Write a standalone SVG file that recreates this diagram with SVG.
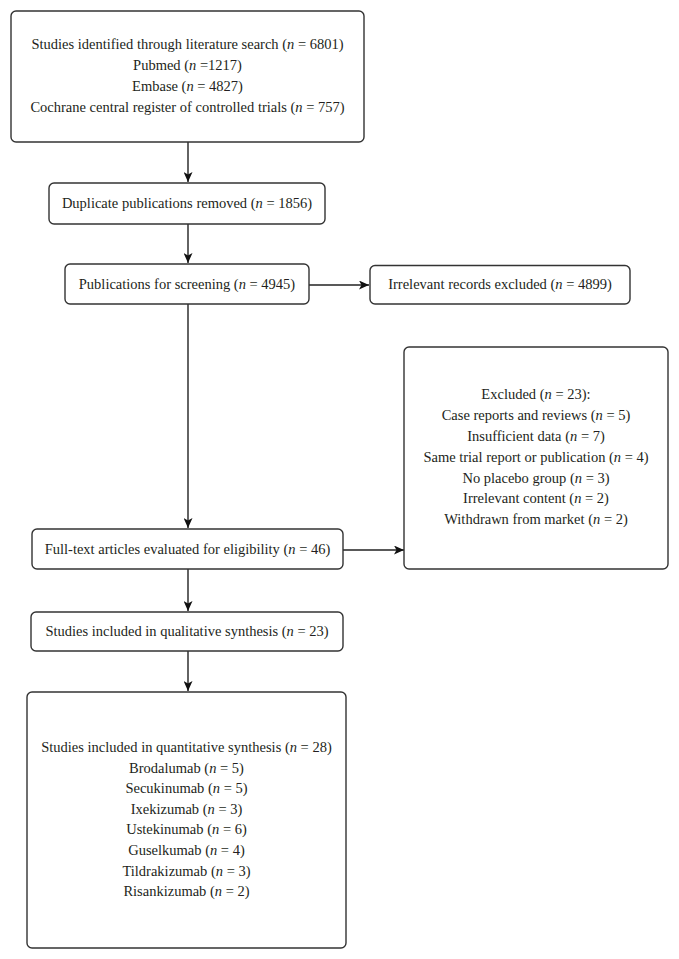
<svg xmlns="http://www.w3.org/2000/svg" width="679" height="959" viewBox="0 0 679 959">
<style>
.box{fill:#fff;stroke:#333;stroke-width:1.4}
.t{font-family:"Liberation Serif","Times New Roman",serif;font-size:14.5px;fill:#231f20;text-anchor:middle}
.i{font-style:italic}
.c{stroke:#222;stroke-width:1.4;fill:none}
</style>
<defs>
<marker id="ah" markerUnits="userSpaceOnUse" markerWidth="11" markerHeight="9" refX="10" refY="4.5" orient="auto">
<path d="M0,0 L10,4.5 L0,9 L2.5,4.5 z" fill="#111"/>
</marker>
</defs>
<rect width="679" height="959" fill="#fff"/>
<g id="connectors">
<line class="c" x1="188" y1="142" x2="188" y2="182" marker-end="url(#ah)"/>
<line class="c" x1="188" y1="224" x2="188" y2="263" marker-end="url(#ah)"/>
<line class="c" x1="309" y1="285" x2="369" y2="285" marker-end="url(#ah)"/>
<line class="c" x1="188" y1="304" x2="188" y2="528" marker-end="url(#ah)"/>
<line class="c" x1="343" y1="550" x2="404" y2="550" marker-end="url(#ah)"/>
<line class="c" x1="188" y1="569" x2="188" y2="611" marker-end="url(#ah)"/>
<line class="c" x1="188" y1="651" x2="188" y2="691" marker-end="url(#ah)"/>
</g>
<g id="identified">
<rect class="box" x="11" y="11" width="353" height="131" rx="5"/>
<text class="t" x="187.5" y="49">Studies identified through literature search (<tspan class="i">n</tspan> = 6801)</text>
<text class="t" x="187.5" y="70">Pubmed (<tspan class="i">n</tspan> =1217)</text>
<text class="t" x="187.5" y="91">Embase (<tspan class="i">n</tspan> = 4827)</text>
<text class="t" x="187.5" y="112">Cochrane central register of controlled trials (<tspan class="i">n</tspan> = 757)</text>
</g>
<g id="duplicates">
<rect class="box" x="49" y="183" width="276" height="41" rx="5"/>
<text class="t" x="187" y="208">Duplicate publications removed (<tspan class="i">n</tspan> = 1856)</text>
</g>
<g id="screening">
<rect class="box" x="65" y="264" width="244" height="40" rx="5"/>
<text class="t" x="187" y="289">Publications for screening (<tspan class="i">n</tspan> = 4945)</text>
</g>
<g id="irrelevant">
<rect class="box" x="370" y="265.5" width="260" height="38.5" rx="5"/>
<text class="t" x="500" y="289">Irrelevant records excluded (<tspan class="i">n</tspan> = 4899)</text>
</g>
<g id="excluded">
<rect class="box" x="404" y="347" width="264" height="222" rx="5"/>
<text class="t" x="536" y="399">Excluded (<tspan class="i">n</tspan> = 23):</text>
<text class="t" x="536" y="420">Case reports and reviews (<tspan class="i">n</tspan> = 5)</text>
<text class="t" x="536" y="441">Insufficient data (<tspan class="i">n</tspan> = 7)</text>
<text class="t" x="536" y="462">Same trial report or publication (<tspan class="i">n</tspan> = 4)</text>
<text class="t" x="536" y="482.5">No placebo group (<tspan class="i">n</tspan> = 3)</text>
<text class="t" x="536" y="503">Irrelevant content (<tspan class="i">n</tspan> = 2)</text>
<text class="t" x="536" y="524">Withdrawn from market (<tspan class="i">n</tspan> = 2)</text>
</g>
<g id="fulltext">
<rect class="box" x="32" y="529" width="311" height="40" rx="5"/>
<text class="t" x="187.5" y="554">Full-text articles evaluated for eligibility (<tspan class="i">n</tspan> = 46)</text>
</g>
<g id="qualitative">
<rect class="box" x="31" y="612" width="312" height="39" rx="5"/>
<text class="t" x="187" y="636">Studies included in qualitative synthesis (<tspan class="i">n</tspan> = 23)</text>
</g>
<g id="quantitative">
<rect class="box" x="27" y="692" width="319" height="256" rx="5"/>
<text class="t" x="186.5" y="752">Studies included in quantitative synthesis (<tspan class="i">n</tspan> = 28)</text>
<text class="t" x="186.5" y="772.6">Brodalumab (<tspan class="i">n</tspan> = 5)</text>
<text class="t" x="186.5" y="793.2">Secukinumab (<tspan class="i">n</tspan> = 5)</text>
<text class="t" x="186.5" y="813.8">Ixekizumab (<tspan class="i">n</tspan> = 3)</text>
<text class="t" x="186.5" y="834.4">Ustekinumab (<tspan class="i">n</tspan> = 6)</text>
<text class="t" x="186.5" y="855">Guselkumab (<tspan class="i">n</tspan> = 4)</text>
<text class="t" x="186.5" y="875.6">Tildrakizumab (<tspan class="i">n</tspan> = 3)</text>
<text class="t" x="186.5" y="896.2">Risankizumab (<tspan class="i">n</tspan> = 2)</text>
</g>
</svg>
